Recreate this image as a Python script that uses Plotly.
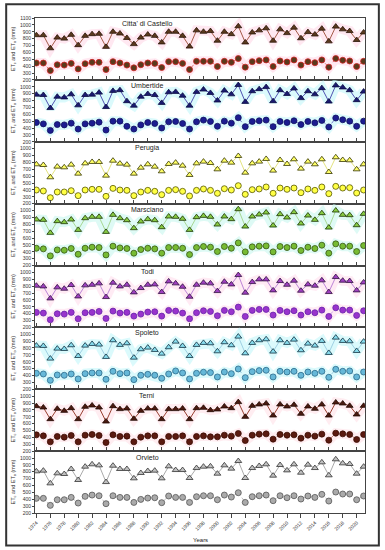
import plotly.graph_objects as go
from plotly.subplots import make_subplots

years = list(range(1974, 2022))
stations = ["Citta' di Castello", "Umbertide", "Perugia", "Marsciano",
            "Todi", "Spoleto", "Terni", "Orvieto"]

eto_castello = [850, 850, 660, 815, 800, 855, 705, 840, 865, 870, 680, 900, 875, 810, 720, 815,
                860, 840, 745, 900, 900, 840, 685, 920, 900, 910, 770, 900, 865, 980, 745, 890,
                920, 950, 770, 935, 880, 960, 805, 895, 860, 945, 760, 975, 935, 910, 780, 890]
etc_castello = [445, 445, 335, 420, 415, 440, 360, 435, 455, 455, 350, 465, 445, 415, 375, 420,
                445, 440, 380, 465, 465, 440, 350, 470, 470, 470, 395, 470, 455, 510, 385, 465,
                480, 490, 395, 475, 460, 490, 415, 465, 450, 490, 385, 510, 485, 475, 395, 470]

eto_umbertide = [885, 880, 690, 855, 845, 890, 730, 880, 885, 915, 705, 940, 950, 790, 725, 855,
                 895, 880, 765, 920, 925, 870, 725, 925, 960, 910, 800, 945, 890, 1025, 780, 935,
                 965, 995, 790, 950, 895, 975, 835, 935, 890, 980, 785, 1020, 990, 950, 805, 930]
etc_umbertide = [480, 460, 365, 450, 445, 470, 385, 460, 470, 485, 370, 500, 500, 425, 385, 445,
                 480, 465, 400, 490, 495, 465, 385, 490, 515, 495, 425, 500, 470, 550, 420, 495,
                 505, 515, 420, 495, 480, 505, 450, 495, 475, 510, 415, 545, 520, 500, 425, 500]

eto_perugia = [772, 762, 583, 738, 728, 767, 636, 786, 806, 806, 607, 825, 782, 767, 636, 723,
               772, 738, 670, 777, 796, 752, 617, 786, 811, 791, 699, 825, 796, 893, 650, 786,
               811, 850, 680, 835, 777, 845, 709, 811, 772, 845, 660, 874, 835, 830, 699, 772]
etc_perugia = [398, 384, 286, 369, 369, 388, 316, 398, 408, 408, 306, 422, 398, 393, 316, 369,
               393, 379, 330, 393, 403, 379, 311, 393, 413, 393, 350, 417, 398, 461, 335, 403,
               413, 442, 350, 427, 408, 427, 359, 413, 393, 442, 345, 451, 427, 432, 354, 398]

eto_marsciano = [869, 864, 675, 845, 830, 869, 718, 888, 908, 908, 689, 937, 888, 859, 743, 840,
                 874, 859, 757, 913, 908, 879, 718, 903, 922, 908, 796, 913, 874, 1019, 767, 913,
                 942, 971, 782, 947, 898, 976, 811, 927, 864, 961, 752, 1000, 937, 932, 786, 951]
etc_marsciano = [451, 442, 340, 427, 422, 447, 364, 451, 466, 461, 354, 481, 456, 447, 379, 432,
                 451, 442, 379, 461, 461, 451, 359, 461, 476, 466, 403, 476, 451, 529, 398, 471,
                 481, 485, 398, 476, 461, 481, 418, 466, 447, 495, 379, 515, 481, 481, 403, 490]

eto_todi = [806, 796, 621, 782, 762, 816, 650, 811, 820, 840, 641, 850, 796, 820, 709, 772,
            820, 825, 714, 869, 840, 791, 646, 820, 850, 840, 728, 864, 825, 961, 704, 859,
            898, 898, 738, 874, 820, 879, 733, 825, 806, 884, 714, 932, 879, 874, 738, 854]
etc_todi = [418, 408, 311, 398, 393, 418, 325, 413, 418, 432, 330, 437, 408, 418, 364, 393,
            422, 427, 364, 447, 437, 408, 325, 413, 442, 432, 369, 447, 427, 495, 359, 447,
            461, 461, 379, 447, 427, 442, 379, 427, 413, 451, 359, 485, 451, 451, 374, 442]

eto_spoleto = [835, 830, 646, 791, 786, 840, 684, 835, 859, 850, 670, 913, 845, 869, 660, 782,
               806, 772, 718, 811, 893, 830, 684, 845, 874, 869, 752, 884, 840, 966, 723, 874,
               913, 927, 748, 913, 874, 922, 767, 864, 835, 903, 728, 951, 903, 898, 757, 893]
etc_spoleto = [432, 422, 330, 408, 403, 422, 350, 427, 437, 437, 345, 461, 427, 437, 340, 403,
               417, 403, 359, 422, 466, 437, 350, 432, 447, 442, 379, 451, 427, 495, 369, 456,
               471, 476, 379, 461, 451, 461, 403, 451, 432, 461, 374, 490, 461, 466, 379, 451]

eto_terni = [854, 835, 665, 816, 786, 825, 665, 845, 864, 835, 631, 854, 811, 820, 670, 786,
             820, 820, 665, 811, 811, 820, 665, 825, 830, 796, 806, 850, 825, 913, 699, 859,
             879, 893, 718, 879, 850, 874, 743, 850, 816, 879, 718, 908, 893, 859, 733, 859]
etc_terni = [437, 422, 335, 413, 403, 427, 335, 432, 442, 427, 325, 437, 413, 418, 335, 403,
             422, 422, 335, 413, 413, 422, 335, 413, 422, 408, 408, 432, 418, 456, 354, 432,
             447, 451, 374, 442, 432, 437, 388, 432, 418, 447, 359, 461, 451, 442, 369, 442]

eto_orvieto = [806, 816, 631, 777, 767, 840, 680, 874, 908, 893, 650, 888, 840, 840, 704, 782,
               811, 816, 704, 879, 825, 825, 709, 854, 874, 879, 772, 893, 845, 956, 709, 854,
               884, 908, 743, 898, 820, 908, 786, 903, 854, 937, 748, 981, 922, 913, 772, 874]
etc_orvieto = [413, 413, 311, 393, 393, 427, 345, 442, 461, 451, 335, 451, 427, 427, 354, 398,
               417, 422, 350, 447, 427, 427, 354, 437, 451, 451, 393, 461, 432, 495, 354, 437,
               451, 461, 379, 451, 422, 451, 403, 447, 427, 471, 374, 505, 476, 476, 393, 447]

eto_all = [eto_castello, eto_umbertide, eto_perugia, eto_marsciano,
           eto_todi, eto_spoleto, eto_terni, eto_orvieto]
etc_all = [etc_castello, etc_umbertide, etc_perugia, etc_marsciano,
           etc_todi, etc_spoleto, etc_terni, etc_orvieto]

# style per station: (tri fill, tri edge, tri line, circ fill, circ edge, circ line, band)
styles = [
    ("#5a3a1e", "#2a1408", "#9a4a34", "#5a3a1c", "#d02020", "#d06060", "rgba(255,205,225,0.45)"),
    ("#1a1a70", "#0a0a40", "#4040a8", "#1c1c90", "#101060", "#6060c0", "rgba(190,245,250,0.55)"),
    ("#ffff66", "#333300", "#e0e070", "#ffff44", "#555500", "#d8d870", None),
    ("#88cc44", "#1a3300", "#a0d488", "#77bb33", "#335511", "#9cc880", "rgba(190,245,235,0.5)"),
    ("#a040c0", "#301040", "#b478d4", "#9933cc", "#6622aa", "#c090e0", "rgba(255,210,230,0.45)"),
    ("#88ddee", "#103040", "#98cce0", "#66b8d8", "#2a6a8a", "#90c0d8", "rgba(190,245,250,0.55)"),
    ("#4a1a10", "#200800", "#8b2a1a", "#5a1a10", "#3a0a00", "#b06050", "rgba(255,215,225,0.45)"),
    ("#c0c0c0", "#333333", "#a0a0a0", "#aaaaaa", "#555555", "#b0b0b0", None),
]

fig = make_subplots(rows=8, cols=1, shared_xaxes=True, vertical_spacing=0)

for k in range(8):
    tf, te, tl, cf, ce, cl, band = styles[k]
    r = k + 1
    if band:
        for series in (eto_all[k], etc_all[k]):
            fig.add_trace(go.Scatter(x=years, y=series, mode="lines",
                                     line=dict(color=band, width=10),
                                     hoverinfo="skip", showlegend=False), row=r, col=1)
    fig.add_trace(go.Scatter(x=years, y=eto_all[k], mode="lines+markers",
                             line=dict(color=tl, width=0.9),
                             marker=dict(symbol="triangle-up", size=6, color=tf,
                                         line=dict(color=te, width=0.8)),
                             showlegend=False), row=r, col=1)
    fig.add_trace(go.Scatter(x=years, y=etc_all[k], mode="lines+markers",
                             line=dict(color=cl, width=0.8, dash="dot"),
                             marker=dict(symbol="circle", size=6, color=cf,
                                         line=dict(color=ce, width=0.8)),
                             showlegend=False), row=r, col=1)
    ticks = list(range(200, 1200, 100)) if k == 0 else list(range(200, 1100, 100))
    fig.update_yaxes(row=r, col=1, range=[200, 1100], tickvals=ticks,
                     ticktext=[str(t) for t in ticks],
                     showgrid=False, zeroline=False, showline=True, mirror=True,
                     linecolor="#444444", linewidth=0.8, ticks="outside", ticklen=2,
                     tickcolor="#444444", tickfont=dict(size=5, color="#333333"),
                     title=dict(text="ET<sub>c</sub> and ET<sub>o</sub> (mm)",
                                font=dict(size=5.5, color="#333333"), standoff=4))
    fig.update_xaxes(row=r, col=1, range=[1973.8, 2021.2], tickvals=list(range(1974, 2022, 2)),
                     showgrid=False, zeroline=False, showline=True, mirror=True,
                     linecolor="#444444", linewidth=0.8,
                     ticks=("outside" if k == 7 else "inside"), ticklen=4,
                     tickcolor="#444444", showticklabels=(k == 7),
                     tickangle=-45, tickfont=dict(size=5, color="#333333"))
    yd = "y domain" if k == 0 else f"y{k + 1} domain"
    fig.add_annotation(text=stations[k], xref="paper", yref=yd, x=0.34, y=0.905,
                       xanchor="center", yanchor="middle",
                       showarrow=False, font=dict(size=7, color="#222222"))

fig.add_annotation(text="Years", xref="paper", yref="paper", x=0.5, y=-0.055,
                   xanchor="center", yanchor="middle",
                   showarrow=False, font=dict(size=6, color="#222222"))

fig.add_shape(type="rect", xref="paper", yref="paper", x0=-0.0873, x1=1.042,
              y0=-0.0655, y1=1.028, line=dict(color="#333333", width=2))

fig.update_layout(width=385, height=550, margin=dict(l=33, r=20, t=18, b=37),
                  paper_bgcolor="white", plot_bgcolor="white",
                  font=dict(family="Arial, Liberation Sans, sans-serif"))

fig.write_html("out.html", config={"displayModeBar": False},
               post_script="document.body.style.margin='0';document.body.style.overflow='hidden';")
